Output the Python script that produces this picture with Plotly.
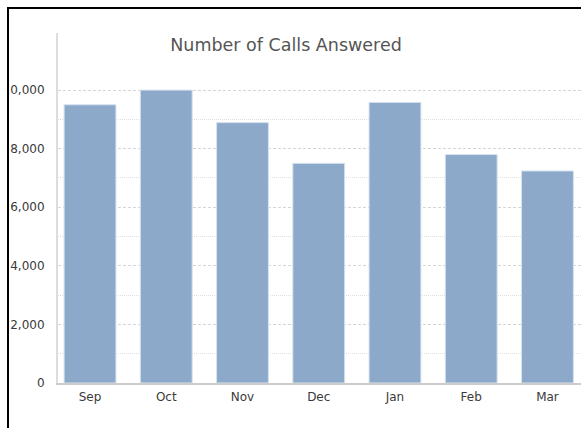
import plotly.graph_objects as go

# Monthly call volume
months = ["Sep", "Oct", "Nov", "Dec", "Jan", "Feb", "Mar"]
calls_answered = [9500, 10000, 8890, 7500, 9580, 7800, 7240]

# y-axis ticks
y_tickvals = [0, 2000, 4000, 6000, 8000, 10000]
y_ticktext = ["0", "2,000", "4,000", "6,000", "8,000", "10,000"]
y_minorvals = [1000, 3000, 5000, 7000, 9000]

W, H = 581, 428
ML, MR, MT, MB = 58, 0, 33, 44.5
pw, ph = W - ML - MR, H - MT - MB


def px_x(p):
    return (p - ML) / pw


def px_y(p):
    return (H - MB - p) / ph


fig = go.Figure(
    go.Bar(
        x=list(range(len(months))),
        y=calls_answered,
        width=0.68,
        marker=dict(color="#8CA9C9", line=dict(color="#D6E2EF", width=1)),
        hoverinfo="skip",
    )
)

fig.update_layout(
    width=W,
    height=H,
    margin=dict(l=ML, r=MR, t=MT, b=MB, pad=0),
    paper_bgcolor="white",
    plot_bgcolor="white",
    showlegend=False,
    font=dict(family="DejaVu Sans", size=12, color="#3A3A3A"),
    title=dict(
        text="Number of Calls Answered",
        font=dict(family="DejaVu Sans", size=17.5, color="#555555"),
        x=286 / W,
        xref="container",
        xanchor="center",
        y=1 - 45 / H,
        yref="container",
        yanchor="middle",
    ),
    xaxis=dict(
        range=[-0.42, 6.44],
        tickmode="array",
        tickvals=list(range(len(months))),
        ticktext=months,
        showgrid=False,
        zeroline=False,
        showline=True,
        linecolor="#CCCCCC",
        linewidth=2,
        ticks="",
        ticklabelstandoff=2,
    ),
    yaxis=dict(
        range=[0, 11950],
        tickmode="array",
        tickvals=y_tickvals,
        ticktext=y_ticktext,
        showgrid=True,
        gridcolor="#D6D6D6",
        griddash="3px,2px",
        gridwidth=1,
        zeroline=False,
        showline=True,
        linecolor="#DDDDDD",
        linewidth=2,
        ticks="",
        ticklabelstandoff=9,
        minor=dict(
            tickmode="array",
            tickvals=y_minorvals,
            showgrid=True,
            gridcolor="#E0E0E0",
            griddash="1px,1px",
            gridwidth=1,
        ),
    ),
    shapes=[
        # white margin outside the frame
        dict(type="rect", xref="paper", yref="paper",
             x0=px_x(-5), x1=px_x(7), y0=px_y(H + 5), y1=px_y(-5),
             fillcolor="white", line_width=0, layer="above"),
        dict(type="rect", xref="paper", yref="paper",
             x0=px_x(-5), x1=px_x(W + 5), y0=px_y(7), y1=px_y(-5),
             fillcolor="white", line_width=0, layer="above"),
        # black frame lines (left and top)
        dict(type="rect", xref="paper", yref="paper",
             x0=px_x(7), x1=px_x(9), y0=px_y(H + 5), y1=px_y(7),
             fillcolor="black", line_width=0, layer="above"),
        dict(type="rect", xref="paper", yref="paper",
             x0=px_x(7), x1=px_x(W + 5), y0=px_y(9), y1=px_y(7),
             fillcolor="black", line_width=0, layer="above"),
    ],
)

fig.write_html("out.html")
